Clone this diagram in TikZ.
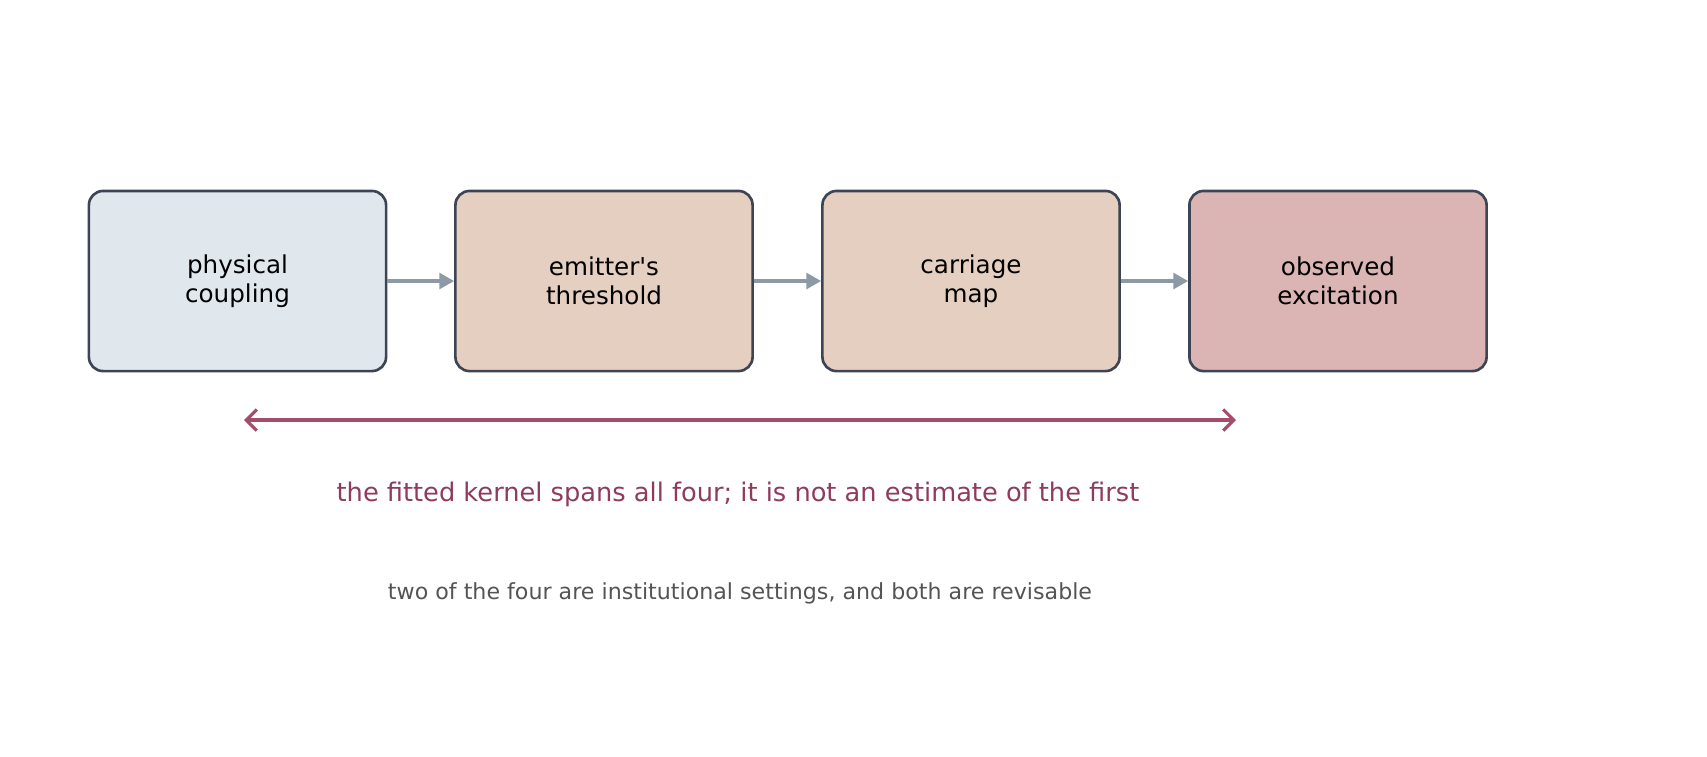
\documentclass[tikz,border=0pt]{standalone}
\usepackage{fontspec}
\setmainfont{DejaVu Sans}
\usetikzlibrary{arrows.meta}
\definecolor{edgeC}{HTML}{3D4555}
\definecolor{flowC}{HTML}{8C99A6}
\definecolor{spanC}{HTML}{A44D6A}
\definecolor{noteC}{HTML}{8E3B5C}
\definecolor{fillA}{HTML}{E0E7ED}
\definecolor{fillB}{HTML}{E5CFC0}
\definecolor{fillC}{HTML}{DBB4B4}
\begin{document}
\begin{tikzpicture}[x=0.01cm,y=-0.01cm]
\tikzset{stage/.style={draw=edgeC,line width=0.75pt,rounded corners=4pt,minimum width=2.97cm,minimum height=1.8cm,align=center,font=\fontsize{7pt}{8.2pt}\selectfont,inner sep=0pt},
flow/.style={draw=flowC,line width=0.9pt,-{Triangle[length=4.2pt,width=4.5pt]}}}
\useasboundingbox (0,0) rectangle (1707,756);
\node [stage,fill=fillA] (coup) at (237.5,281) {physical\\coupling};
\node [stage,fill=fillB] (thre) at (604,281) {emitter\textquotesingle s\\threshold};
\node [stage,fill=fillB] (carr) at (971,281) {carriage\\map};
\node [stage,fill=fillC] (obse) at (1338,281) {observed\\excitation};
\draw [flow] (coup) -- (thre);
\draw [flow] (thre) -- (carr);
\draw [flow] (carr) -- (obse);
\coordinate (spanL) at (244,420);
\coordinate (spanR) at (1236,420);
\draw [spanC,line width=0.9pt,{Straight Barb[length=3pt,width=6pt]}-{Straight Barb[length=3pt,width=6pt]}] (spanL) -- (spanR);
\node [text=noteC,font=\fontsize{7.3pt}{9pt}\selectfont] (kern) at (738,494) {the fitted kernel spans all four; it is not an estimate of the first};
\node [text=black!67,font=\fontsize{6.3pt}{8pt}\selectfont] (inst) at (740,593) {two of the four are institutional settings, and both are revisable};
\end{tikzpicture}
\end{document}
